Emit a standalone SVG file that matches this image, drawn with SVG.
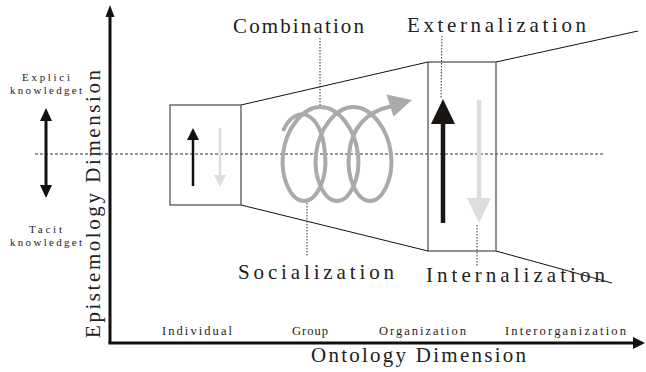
<svg xmlns="http://www.w3.org/2000/svg" width="646" height="372" viewBox="0 0 646 372">
<style>
.t{font-family:"Liberation Serif","DejaVu Serif",serif;fill:#222}
.big{font-size:21px}
.sm{font-size:12.5px}
.lg{font-size:11px}
.box{fill:none;stroke:#555;stroke-width:1.3}
.edge{fill:none;stroke:#111;stroke-width:1}
.lead{fill:none;stroke:#333;stroke-width:1;stroke-dasharray:1.5 1.5}
</style>
<rect width="646" height="372" fill="#fff"/>
<g id="axes">
<path d="M110,343 V16" fill="none" stroke="#111" stroke-width="3"/>
<polygon points="110,5 105.5,17 114.5,17" fill="#111"/>
<path d="M108.5,343 H634" fill="none" stroke="#111" stroke-width="3"/>
<polygon points="645,343 633,337 633,349" fill="#111"/>
<text class="t big" x="0" y="0" textLength="268" lengthAdjust="spacing" transform="translate(100,338) rotate(-90)">Epistemology Dimension</text>
<text class="t big" x="311" y="362" textLength="215" lengthAdjust="spacing">Ontology Dimension</text>
<text class="t sm" x="162" y="335" textLength="70" lengthAdjust="spacing">Individual</text>
<text class="t sm" x="292" y="335" textLength="36" lengthAdjust="spacing">Group</text>
<text class="t sm" x="379" y="335" textLength="87" lengthAdjust="spacing">Organization</text>
<text class="t sm" x="505" y="335" textLength="121" lengthAdjust="spacing">Interorganization</text>
</g>
<g id="midline">
<path d="M35,154 H603" fill="none" stroke="#333" stroke-width="1" stroke-dasharray="3 2"/>
</g>
<g id="knowledge-legend">
<text class="t lg" x="22" y="81" textLength="48" lengthAdjust="spacing">Explici</text>
<text class="t lg" x="10" y="94" textLength="72" lengthAdjust="spacing">knowledget</text>
<path d="M46,119 V187" fill="none" stroke="#111" stroke-width="3"/>
<polygon points="46,108 40,121 52,121" fill="#111"/>
<polygon points="46,198 40,185 52,185" fill="#111"/>
<text class="t lg" x="29" y="233" textLength="33" lengthAdjust="spacing">Tacit</text>
<text class="t lg" x="10" y="246" textLength="72" lengthAdjust="spacing">knowledget</text>
</g>
<g id="connectors">
<path class="edge" d="M241,105 L428,62"/>
<path class="edge" d="M241,205 L428,251"/>
<path class="edge" d="M496,62 L638,31"/>
<path class="edge" d="M496,251 L612,283"/>
<path class="lead" d="M320,38 V109"/>
<path class="lead" d="M442,36 L441,98"/>
<path class="lead" d="M307,203 V256"/>
<path class="lead" d="M477,225 V266"/>
</g>
<g id="individual">
<rect class="box" x="170" y="105" width="71" height="100"/>
<path d="M193,186 V138" fill="none" stroke="#111" stroke-width="2.5"/>
<polygon points="193,128 187,140 199,140" fill="#111"/>
<path d="M220,128 V177" fill="none" stroke="#ddd" stroke-width="2.5"/>
<polygon points="220,187 214,175 226,175" fill="#ddd"/>
</g>
<g id="spiral">
<path fill="none" stroke="#aaa" stroke-width="4" d="M283,131 C295,103 322,110 325,154 C327.75,178.61 316.57,201 304,201 C291.43,201 280.25,178.61 283,154 C285.75,129.39 302.44,107 320.5,107 C338.56,107 355.25,129.39 358,154 C360.75,178.61 349.57,201 337,201 C324.43,201 313.25,178.61 316,154 C318.75,129.39 335.44,107 353.5,107 C371.56,107 388.25,129.39 391,154 C393.75,178.61 382.57,201 370,201 C357.43,201 346.25,178.61 349,154 C352,122 372,110.5 392,106"/>
<polygon points="386.5,94.5 412,100 393.5,116.5" fill="#aaa"/>
</g>
<g id="organization">
<rect class="box" x="428" y="62" width="68" height="189"/>
<path d="M443,223 V120" fill="none" stroke="#1a1614" stroke-width="4.5"/>
<polygon points="443,99 431,124 455,124" fill="#1a1614"/>
<path d="M479,100 V200" fill="none" stroke="#ddd" stroke-width="4.5"/>
<polygon points="479,223 467,198 491,198" fill="#ddd"/>
</g>
<g id="labels">
<text class="t big" x="233" y="33" textLength="131" lengthAdjust="spacing">Combination</text>
<text class="t big" x="407" y="32" textLength="179" lengthAdjust="spacing">Externalization</text>
<text class="t big" x="238" y="279" textLength="156" lengthAdjust="spacing">Socialization</text>
<text class="t big" x="426" y="282" textLength="179" lengthAdjust="spacing">Internalization</text>
</g>
</svg>
